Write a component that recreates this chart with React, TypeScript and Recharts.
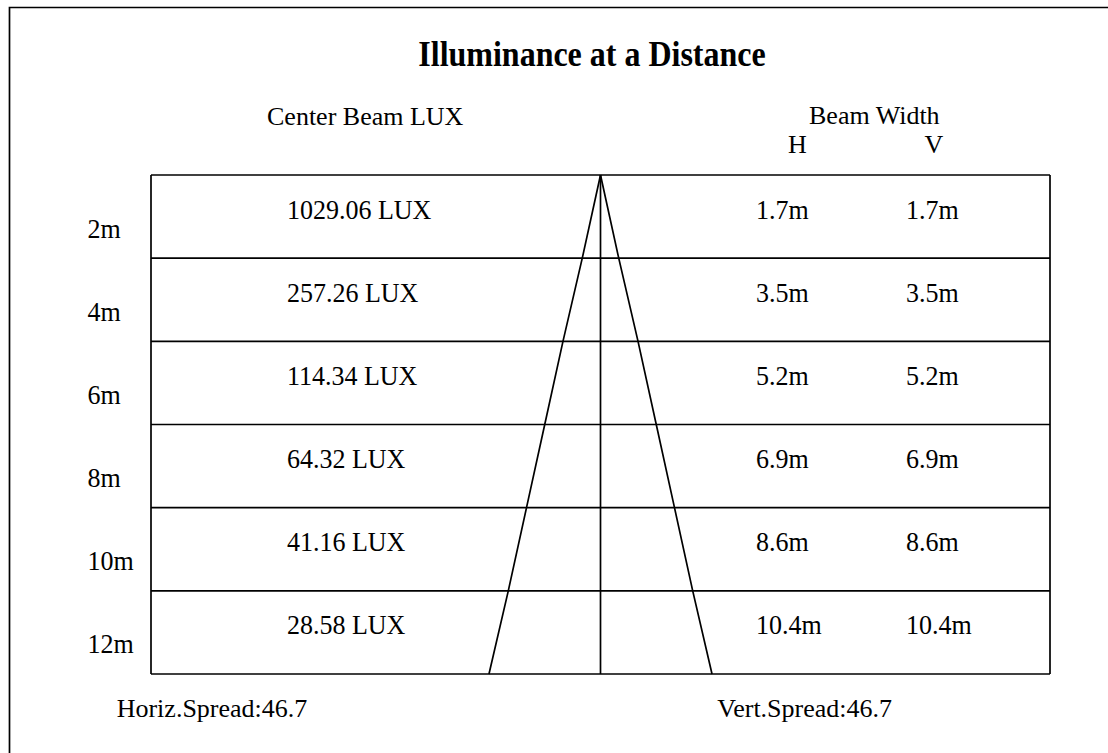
import React from 'react';
import {
  ComposedChart,
  XAxis,
  YAxis,
  Line,
  Scatter,
  ReferenceLine,
} from 'recharts';

const distances = [2, 4, 6, 8, 10, 12];
const centerLux = [1029.06, 257.26, 114.34, 64.32, 41.16, 28.58];
const beamWidthH = [1.7, 3.5, 5.2, 6.9, 8.6, 10.4];
const beamWidthV = [1.7, 3.5, 5.2, 6.9, 8.6, 10.4];
const horizSpread = 46.7;
const vertSpread = 46.7;

const FONT = '"Liberation Serif", "Times New Roman", serif';
const X_RANGE = 20.96; // half width of the table in metres
const COL = { lux: -14.62, h: 7.25, v: 14.25 };

const rowBounds = [0, ...distances];
const leftEdge = [{ x: 0, y: 0 }, ...distances.map((d, i) => ({ x: -beamWidthH[i] / 2, y: d }))];
const rightEdge = [{ x: 0, y: 0 }, ...distances.map((d, i) => ({ x: beamWidthH[i] / 2, y: d }))];
const luxCells = distances.map((d, i) => ({ x: COL.lux, y: d - 1, label: `${centerLux[i].toFixed(2)} LUX` }));
const hCells = distances.map((d, i) => ({ x: COL.h, y: d - 1, label: `${beamWidthH[i]}m` }));
const vCells = distances.map((d, i) => ({ x: COL.v, y: d - 1, label: `${beamWidthV[i]}m` }));

const CellText = (props: any) => (
  <text
    transform={`translate(${props.cx},${props.cy + 2}) scale(1,1.05)`}
    fontFamily={FONT}
    fontSize={26}
    fill="#000"
    textAnchor="start"
  >
    {props.payload.label}
  </text>
);

const RowTick = (props: any) => (
  <text
    transform={`translate(87.5,${props.y + 21}) scale(1,1.07)`}
    fontFamily={FONT}
    fontSize={26}
    fill="#000"
    textAnchor="start"
  >
    {`${props.payload.value + 1}m`}
  </text>
);

export default function App() {
  return (
    <div style={{ position: 'absolute', left: 0, top: 0, background: '#fff' }}>
      <ComposedChart
        width={1108}
        height={753}
        margin={{ top: 175, right: 58, bottom: 79, left: 0 }}
      >
        <XAxis type="number" dataKey="x" domain={[-X_RANGE, X_RANGE]} allowDataOverflow hide />
        <YAxis
          type="number"
          dataKey="y"
          domain={[0, 12]}
          reversed
          width={151}
          ticks={distances.map((d) => d - 1)}
          tick={<RowTick />}
          axisLine={false}
          tickLine={false}
        />
        {rowBounds.map((b) => (
          <ReferenceLine key={`h${b}`} y={b} stroke="#000" strokeWidth={1.7} />
        ))}
        <ReferenceLine x={-X_RANGE} stroke="#000" strokeWidth={1.7} />
        <ReferenceLine x={X_RANGE} stroke="#000" strokeWidth={1.7} />
        <ReferenceLine x={0} stroke="#000" strokeWidth={1.7} />
        <Line data={leftEdge} dataKey="y" stroke="#000" strokeWidth={1.7} dot={false} isAnimationActive={false} />
        <Line data={rightEdge} dataKey="y" stroke="#000" strokeWidth={1.7} dot={false} isAnimationActive={false} />
        <Scatter data={luxCells} dataKey="y" shape={<CellText />} isAnimationActive={false} />
        <Scatter data={hCells} dataKey="y" shape={<CellText />} isAnimationActive={false} />
        <Scatter data={vCells} dataKey="y" shape={<CellText />} isAnimationActive={false} />

        <path d="M9.5 753 V7.5 H1108" fill="none" stroke="#000" strokeWidth={1.7} />
        <text
          transform="translate(592,66) scale(1,1.14)"
          textAnchor="middle"
          fontFamily={FONT}
          fontSize={32}
          fontWeight="bold"
        >
          Illuminance at a Distance
        </text>
        <text x={267} y={125} fontFamily={FONT} fontSize={26}>Center Beam LUX</text>
        <text x={809} y={124} fontFamily={FONT} fontSize={26}>Beam Width</text>
        <text x={788} y={153} fontFamily={FONT} fontSize={26}>H</text>
        <text x={924.5} y={153} fontFamily={FONT} fontSize={26}>V</text>
        <text x={116.7} y={717} fontFamily={FONT} fontSize={26}>{`Horiz.Spread:${horizSpread}`}</text>
        <text x={717.3} y={717} fontFamily={FONT} fontSize={26}>{`Vert.Spread:${vertSpread}`}</text>
      </ComposedChart>
    </div>
  );
}
